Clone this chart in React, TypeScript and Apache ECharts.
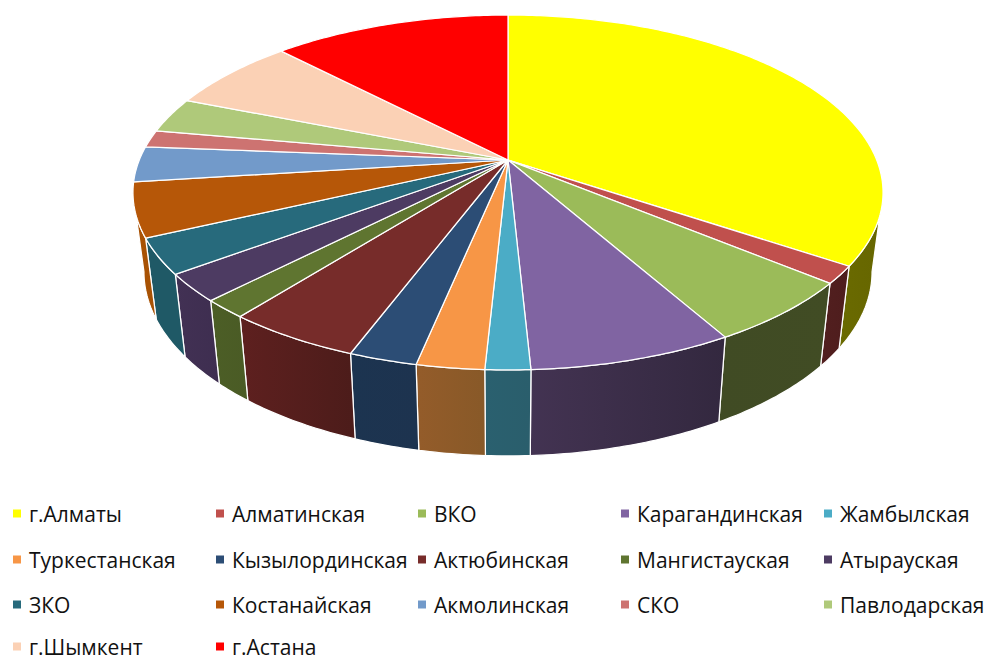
import React, { useEffect, useRef } from "react";
import * as echarts from "echarts";

const categories = ["г.Алматы","Алматинская","ВКО","Карагандинская","Жамбылская","Туркестанская","Кызылординская","Актюбинская","Мангистауская","Атырауская","ЗКО","Костанайская","Акмолинская","СКО","Павлодарская","г.Шымкент","г.Астана"];
const values = [34.39,1.58,5.78,7.44,1.63,2.46,2.48,4.94,1.67,2.5,3.22,4.92,3.22,1.58,3.22,6.72,12.25];
const topColors = ["#FFFF00","#C0504D","#9BBB59","#8064A2","#4BACC6","#F79646","#2C4D75","#772C2A","#5F7530","#4D3B62","#276A7C","#B65708","#729ACA","#CD7371","#AFC97A","#FBD1B5","#FF0000"];
const wallLeft = ["#6A6A00","#521F1F","#404B24","#433352","#2A606F","#945C2A","#1C3450","#5E201F","#4C5E26","#423154","#1F5966","#A85204","#5F7FA8","#8A4D4C","#7C8F57","#A98C79","#AA0000"];
const wallRight = ["#666600","#4E1D1D","#414C24","#33283F","#2A5E6C","#885928","#1D334F","#4C1C1A","#4A5B25","#3E2E50","#1F5966","#A85204","#5F7FA8","#8A4D4C","#7C8F57","#A98C79","#AA0000"];

const legendCols = [13, 216, 418, 621, 824];
const legendRows = [512, 558, 603, 645];

const CX = 508, K = 0.183;
const TOP = { y: 160, rx: 368.7, ry: 171.5 };
const BASE = { y: 238.3, rx: 357.9, ry: 177.8 };
const WALL_FROM = 100.5, WALL_TO = 259.5;

function project(deg: number, p: { y: number; rx: number; ry: number }) {
  const t = (deg * Math.PI) / 180;
  const x = Math.sin(t), y = -Math.cos(t);
  const d = 1 - K * y;
  return [CX + (p.rx * x) / d, p.y + (p.ry * y) / d];
}

function arc(a: number, b: number, p: typeof TOP) {
  const pts: number[][] = [];
  const n = Math.max(2, Math.ceil((b - a) / 0.75));
  for (let i = 0; i <= n; i++) pts.push(project(a + ((b - a) * i) / n, p));
  return pts;
}

const total = values.reduce((s, v) => s + v, 0);
let acc = 0;
const spans = values.map((v) => {
  const start = (acc / total) * 360;
  acc += v;
  return [start, (acc / total) * 360];
});

const renderSlice = (idx: number) => (_params: any, api: any) => {
  const a = api.value(0), b = api.value(1);
  const children: any[] = [];
  const wa = Math.max(a, WALL_FROM), wb = Math.min(b, WALL_TO);
  if (wb > wa) {
    const pts = arc(wa, wb, TOP).concat(arc(wa, wb, BASE).reverse());
    children.push({
      type: "polygon",
      z2: 1,
      shape: { points: pts },
      style: {
        fill: new echarts.graphic.LinearGradient(0, 0, 1, 0, [
          { offset: 0, color: wallLeft[idx] },
          { offset: 1, color: wallRight[idx] },
        ]),
        stroke: "#fff",
        lineWidth: 1.25,
        lineJoin: "round",
      },
    });
  }
  children.push({
    type: "polygon",
    z2: 10,
    shape: { points: [[CX, TOP.y], ...arc(a, b, TOP)] },
    style: { fill: topColors[idx], stroke: "#fff", lineWidth: 1.25, lineJoin: "round" },
  });
  return { type: "group", children };
};

export default function App() {
  const ref = useRef<HTMLDivElement>(null);
  useEffect(() => {
    const chart = echarts.init(ref.current!, undefined, { renderer: "svg" });
    chart.setOption({
      animation: false,
      backgroundColor: "#fff",
      legend: categories.map((name, i) => ({
        data: [name],
        left: legendCols[i % 5],
        top: legendRows[Math.floor(i / 5)] - 9,
        padding: 0,
        itemWidth: 8,
        itemHeight: 8,
        icon: "rect",
        selectedMode: false,
        textStyle: { fontFamily: "Open Sans", fontSize: 21, color: "#111", padding: [0, 0, 4, 3], lineHeight: 14 },
      })),
      series: categories.map((name, i) => ({
        type: "custom",
        name,
        coordinateSystem: "none",
        itemStyle: { color: topColors[i] },
        silent: true,
        clip: false,
        data: [{ name, value: spans[i] }],
        renderItem: renderSlice(i),
      })),
    });
    return () => chart.dispose();
  }, []);
  return <div ref={ref} style={{ position: "fixed", left: 0, top: 0, width: 986, height: 659 }} />;
}
